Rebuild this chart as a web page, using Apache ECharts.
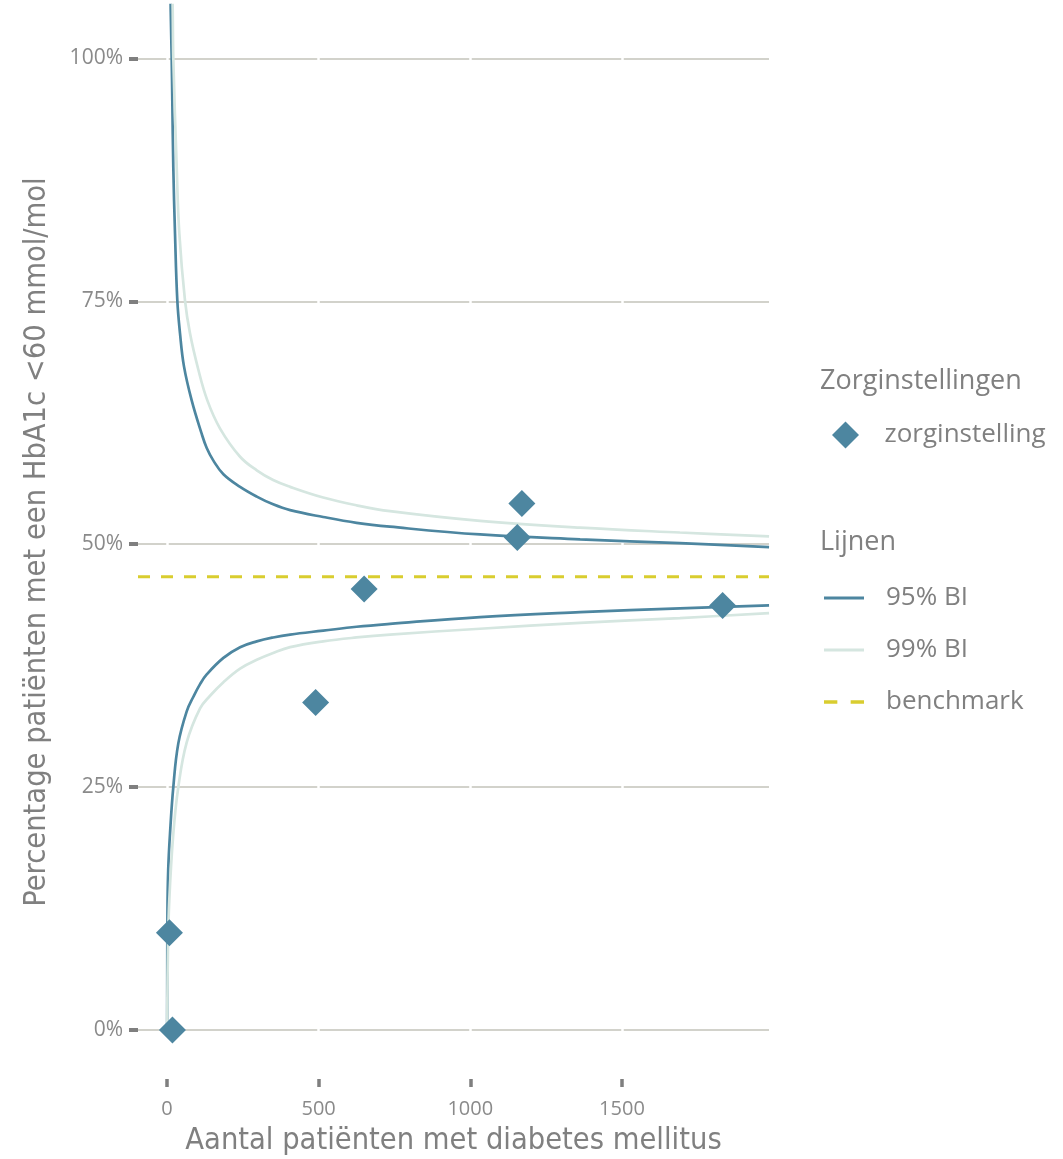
<!DOCTYPE html>
<html><head><meta charset="utf-8">
<script src="https://cdn.jsdelivr.net/npm/echarts@6/dist/echarts.min.js"></script>
<style>html,body{margin:0;padding:0;background:#fff}#c{width:1063px;height:1159px}</style>
</head><body><div id="c"></div>
<script>
// ---- data ----
const xTicks = [0, 500, 1000, 1500];
const yTicks = [0, 25, 50, 75, 100];
const benchmarkPct = 46.65;

// zorginstellingen (n patients, % HbA1c < 60)
const instN   = [8, 18, 490, 650, 1155, 1170, 1832];
const instPct = [10.0, 0, 33.7, 45.4, 50.7, 54.2, 43.7];

// 95% BI upper
const up95N   = [10.5, 12.2, 15.5, 17.5, 20.8, 26.4, 34, 42.9, 56, 81.4, 114, 131, 153, 186, 241, 296, 350, 406, 515, 625, 735, 1032, 1362, 1691, 1985];
const up95Pct = [110, 105, 100, 95.7, 88.8, 82.0, 75.1, 71.7, 68.3, 64.8, 61.4, 59.9, 58.6, 57.2, 55.9, 54.9, 54.1, 53.5, 52.8, 52.2, 51.8, 51.0, 50.5, 50.1, 49.7];
// 95% BI lower
const lo95N   = [0.5, 1.5, 4, 9.9, 20.8, 37.3, 65, 87, 109, 131, 186, 241, 296, 350, 406, 515, 625, 735, 1032, 1362, 1691, 1985];
const lo95Pct = [0, 12, 16.5, 20.2, 25.0, 29.5, 32.8, 34.3, 35.6, 36.6, 38.3, 39.4, 40.0, 40.4, 40.7, 41.1, 41.5, 41.8, 42.5, 43.0, 43.4, 43.7];
// 99% BI upper
const up99N   = [16, 18.8, 20.8, 32, 40.6, 59.3, 75.8, 103, 133, 175, 241, 296, 350, 406, 515, 625, 735, 1032, 1362, 1691, 1985];
const up99Pct = [110, 105, 100, 88.8, 82.0, 75.1, 71.7, 68.0, 64.8, 61.9, 59.0, 57.6, 56.6, 55.9, 54.8, 54.0, 53.4, 52.4, 51.7, 51.2, 50.8];
// 99% BI lower
const lo99N   = [0.3, 3, 7.6, 20.8, 37.3, 65, 109, 142, 186, 241, 296, 350, 406, 515, 625, 735, 1032, 1362, 1691, 1985];
const lo99Pct = [0, 8, 13.4, 20.2, 25.0, 29.6, 33.1, 34.4, 35.8, 37.2, 38.1, 38.8, 39.4, 40.0, 40.4, 40.7, 41.3, 41.9, 42.4, 42.9];

// axis ranges
const X_MIN = -95.6, X_MAX = 1984.8;
const Y_MIN = -5.04, Y_MAX = 105.49;

// ---- styles ----
const DARK = '#4d86a0', LIGHT = '#d5e6e0', YELLOW = '#d9cd2f';
const GRID = '#d2d2cb', TICK = '#7f7f7f', TXT = '#808080';
const TITLE_FONT = "'Liberation Sans Narrow', 'DejaVu Sans Condensed', sans-serif";
const LAB_FONT = "'Open Sans', sans-serif";

const pairs = (xs, ys) => xs.map((x, i) => [x, ys[i]]);

const chart = echarts.init(document.getElementById('c'), null, {renderer: 'canvas'});

const lineSeries = (name, xs, ys, color) => ({
  name, type: 'line', data: pairs(xs, ys), symbol: 'none', showSymbol: false,
  smooth: 0.4, clip: true, silent: true,
  lineStyle: {color, width: 2.7}, itemStyle: {color}
});

const LINE_ICON = 'path://M0,0L40,0L40,3L0,3Z';
const DASH_ICON = 'path://M0,0L12,0L12,3L0,3Z M24,0L36,0L36,3L24,3Z';

chart.setOption({
  animation: false,
  backgroundColor: '#ffffff',
  grid: {left: 138, right: 294, top: 5, bottom: 80, containLabel: false, outerBoundsMode: 'none'},
  xAxis: {
    type: 'value', min: X_MIN, max: X_MAX, z: 1,
    axisLine: {show: false, onZero: false},
    axisTick: {show: true, customValues: xTicks, length: 8, lineStyle: {color: TICK, width: 3.5}},
    axisLabel: {customValues: xTicks, margin: 20, color: '#8a8a8a', fontSize: 20, fontFamily: LAB_FONT,
      formatter: v => String(v)},
    splitLine: {show: true, customValues: xTicks, lineStyle: {color: '#ffffff', width: 2.5}},
    name: 'Aantal patiënten met diabetes mellitus', nameLocation: 'middle', nameGap: 47,
    nameTextStyle: {color: TXT, fontSize: 30.5, fontFamily: TITLE_FONT}
  },
  yAxis: {
    type: 'value', min: Y_MIN, max: Y_MAX,
    axisLine: {show: false, onZero: false},
    axisTick: {show: true, customValues: yTicks, length: 9, lineStyle: {color: TICK, width: 4}},
    axisLabel: {customValues: yTicks, margin: 15, color: '#8a8a8a', fontSize: 21, fontFamily: LAB_FONT,
      formatter: v => v + '%'},
    splitLine: {show: true, customValues: yTicks, lineStyle: {color: GRID, width: 2.2}},
    name: 'Percentage patiënten met een HbA1c <60 mmol/mol', nameLocation: 'middle', nameGap: 85,
    nameTextStyle: {color: TXT, fontSize: 30.5, fontFamily: TITLE_FONT}
  },
  legend: [
    {
      data: [{name: 'zorginstelling', icon: 'path://M0,-1L1,0L0,1L-1,0Z'}],
      left: 827, top: 416.5, orient: 'vertical',
      itemWidth: 40, itemHeight: 27, selectedMode: false,
      itemStyle: {borderWidth: 0},
      textStyle: {color: TXT, fontSize: 26, fontFamily: LAB_FONT, padding: [0, 0, 0, 14]}
    },
    {
      data: [
        {name: '95% BI', icon: LINE_ICON},
        {name: '99% BI', icon: LINE_ICON},
        {name: 'benchmark', icon: DASH_ICON}
      ],
      left: 819, top: 580, orient: 'vertical',
      itemWidth: 40, itemHeight: 20, itemGap: 26, selectedMode: false,
      itemStyle: {borderWidth: 0},
      textStyle: {color: TXT, fontSize: 26, fontFamily: LAB_FONT, padding: [0, 0, 0, 17]}
    }
  ],
  graphic: [
    {type: 'text', left: 820, top: 368, style: {text: 'Zorginstellingen', fill: TXT, fontSize: 27, fontFamily: LAB_FONT}},
    {type: 'text', left: 820, top: 529, style: {text: 'Lijnen', fill: TXT, fontSize: 27, fontFamily: LAB_FONT}}
  ],
  series: [
    lineSeries('95% BI', up95N, up95Pct, DARK),
    lineSeries('95% BI', lo95N, lo95Pct, DARK),
    lineSeries('99% BI', up99N, up99Pct, LIGHT),
    lineSeries('99% BI', lo99N, lo99Pct, LIGHT),
    {
      name: 'benchmark', type: 'line', symbol: 'none', silent: true,
      data: [[X_MIN, benchmarkPct], [X_MAX, benchmarkPct]],
      lineStyle: {color: YELLOW, width: 3, type: [12, 11]}, itemStyle: {color: YELLOW}
    },
    {
      name: 'zorginstelling', type: 'scatter', symbol: 'diamond', symbolSize: 27,
      data: pairs(instN, instPct), itemStyle: {color: DARK, opacity: 1}, z: 5
    }
  ]
});
</script>
</body></html>
